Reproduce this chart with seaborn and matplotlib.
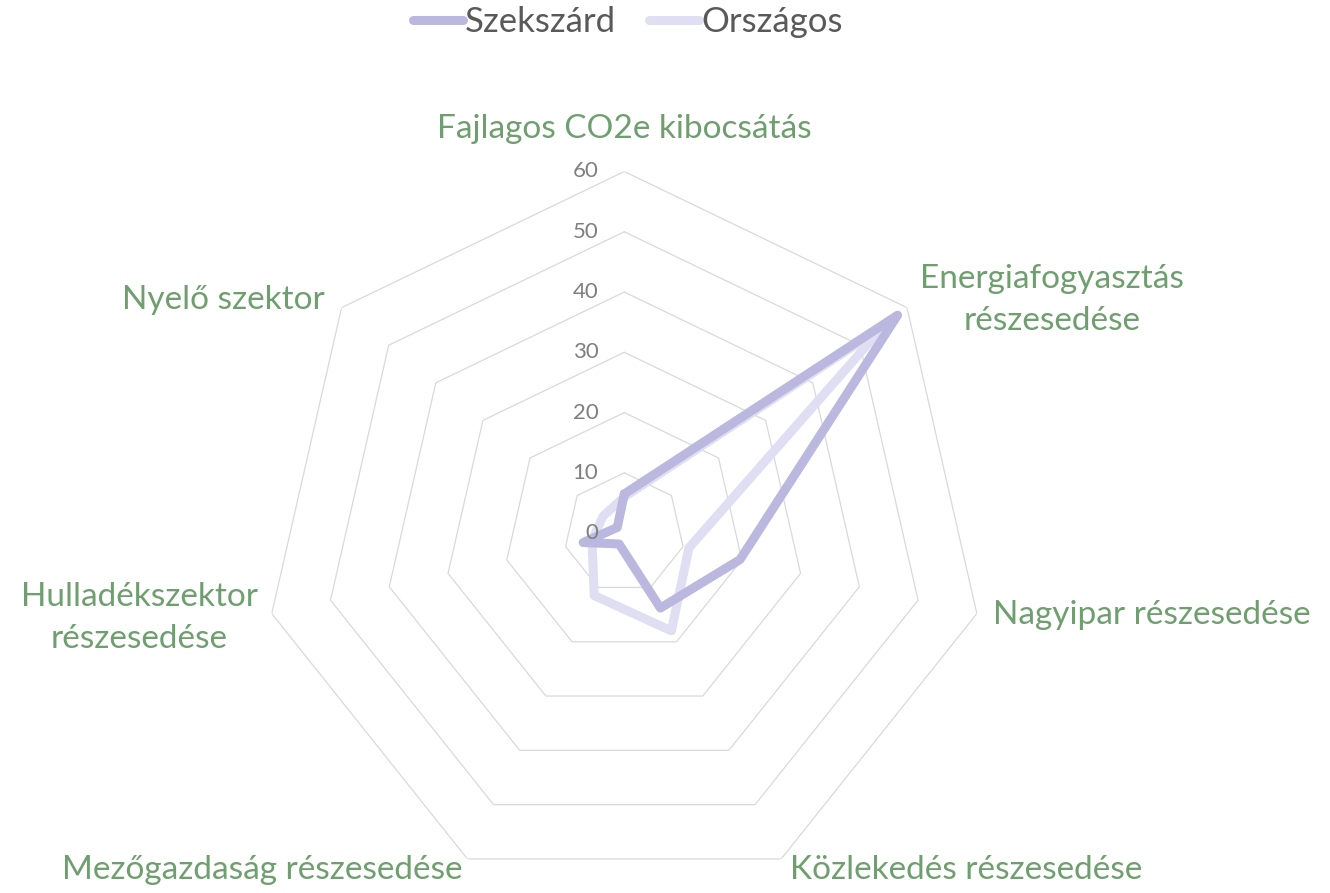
import numpy as np
import pandas as pd
import matplotlib
matplotlib.use('Agg')
import matplotlib.pyplot as plt
import seaborn as sns
from matplotlib.lines import Line2D

# data
categories = [
    "Fajlagos CO2e kibocsátás",
    "Energiafogyasztás\nrészesedése",
    "Nagyipar részesedése",
    "Közlekedés részesedése",
    "Mezőgazdaság részesedése",
    "Hulladékszektor\nrészesedése",
    "Nyelő szektor",
]
szekszard = [6.5, 58, 19.7, 13.8, 2, 7, 1.5]
orszagos = [6, 55, 11, 18, 11.5, 5.5, 4.5]
series_names = ["Szekszárd", "Országos"]
r_ticks = [0, 10, 20, 30, 40, 50, 60]

# style
colors = {"Szekszárd": "#bab8df", "Országos": "#dfdef3"}
label_color = "#6f9f6f"
tick_color = "#7f7f7f"
grid_color = "#d9d9d9"

sns.set_theme(style="white")
plt.rcParams['font.family'] = ['Lato', 'DejaVu Sans']

n = len(categories)
theta = np.linspace(0, 2 * np.pi, n, endpoint=False)
theta_closed = np.append(theta, 2 * np.pi)

rows = []
for name, vals in [("Országos", orszagos), ("Szekszárd", szekszard)]:
    closed = list(vals) + [vals[0]]
    for t, v in zip(theta_closed, closed):
        rows.append({"series": name, "theta": t, "value": v})
df = pd.DataFrame(rows)

fig = plt.figure(figsize=(13.3, 8.93), dpi=100)
ax = fig.add_axes([0.1975, -0.002, 0.5438, 0.81], projection='polar')
ax.set_theta_offset(np.pi / 2)
ax.set_theta_direction(-1)
ax.set_ylim(0, 60)
ax.grid(False)
ax.spines['polar'].set_visible(False)
ax.set_xticks([])
ax.set_yticks([])
ax.patch.set_alpha(0)

# heptagon rings
for v in r_ticks[1:]:
    ax.plot(theta_closed, [v] * len(theta_closed), color=grid_color, lw=0.9, zorder=1)

sns.lineplot(data=df, x="theta", y="value", hue="series", palette=colors,
             sort=False, estimator=None, linewidth=6.5, legend=False, ax=ax,
             solid_joinstyle='round', solid_capstyle='round', zorder=3)
ax.set_xlabel("")
ax.set_ylabel("")

# radial tick labels
for v in r_ticks:
    ax.annotate(str(v), xy=(0, v), xytext=(-26, 0), textcoords='offset pixels',
                ha='right', va='center', fontsize=16, color=tick_color,
                annotation_clip=False)

# category labels: (ha, dx, dy) offsets from outer vertex
label_layout = [
    ('center', 0, 42),
    ('left', 13, 8),
    ('left', 16, -1),
    ('left', 9, -11),
    ('right', -5, -11),
    ('right', -14, -4),
    ('right', -17, 8),
]
for t, lab, (ha, dx, dy) in zip(theta, categories, label_layout):
    ax.annotate(lab, xy=(t, 60), xytext=(dx, dy), textcoords='offset pixels',
                ha=ha, va='center', multialignment='center', fontsize=24,
                color=label_color, annotation_clip=False, linespacing=1.5)

handles = [Line2D([0], [0], color=colors[s], lw=6.5, solid_capstyle='round')
           for s in series_names]
leg = fig.legend(handles, series_names, loc='center', bbox_to_anchor=(0.472, 0.975),
                 ncol=2, frameon=False, fontsize=25, handlelength=1.45,
                 handletextpad=0.05, columnspacing=0.95)
for txt in leg.get_texts():
    txt.set_color("#595959")

fig.savefig("out.png", dpi=100)
